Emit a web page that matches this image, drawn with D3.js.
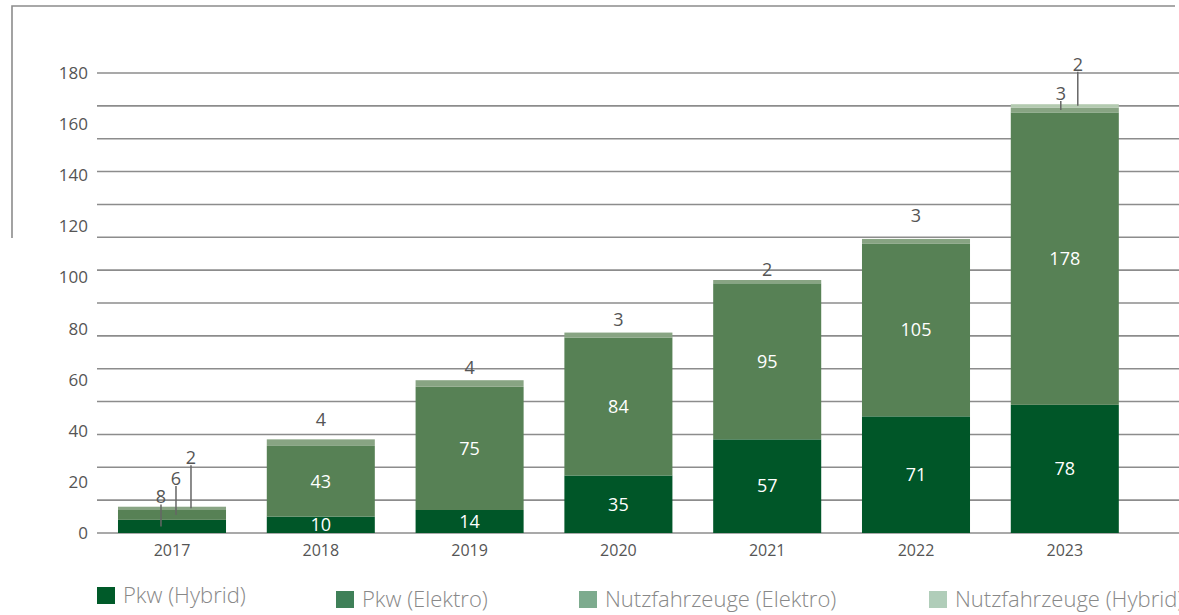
<!DOCTYPE html>
<html lang="de">
<head>
  <meta charset="UTF-8">
  <title>Fahrzeuge Hybrid / Elektro</title>
  <script src="https://d3js.org/d3.v7.min.js"></script>
  <style>
    body {
      margin: 0;
      background: #fff;
      font-family: "Open Sans", "Noto Sans", sans-serif;
    }

    .grid line {
      stroke: #8c8c8c;
      stroke-width: 1.6;
    }

    .tick-label {
      font-size: 17px;
      fill: #555;
    }

    .year-label {
      font-size: 16px;
      fill: #555;
    }

    .val-in {
      font-size: 18px;
      fill: #fff;
    }

    .val-out {
      font-size: 18px;
      fill: #555;
    }

    .legend text {
      font-size: 22px;
      font-weight: 300;
      fill: #888;
    }
  </style>
</head>
<body>
  <div id="body"></div>
  <script>
    // data
    const years = ["2017", "2018", "2019", "2020", "2021", "2022", "2023"];
    const pkwHybrid = [8, 10, 14, 35, 57, 71, 78];
    const pkwElektro = [6, 43, 75, 84, 95, 105, 178];
    const nfzElektro = [2, 4, 4, 3, 2, 3, 3];
    const nfzHybrid = [0, 0, 0, 0, 0, 0, 2];
    const yTickLabels = [0, 20, 40, 60, 80, 100, 120, 140, 160, 180];
    const seriesNames = ["Pkw (Hybrid)", "Pkw (Elektro)", "Nutzfahrzeuge (Elektro)", "Nutzfahrzeuge (Hybrid)"];

    const keys = ["pkwHybrid", "pkwElektro", "nfzElektro", "nfzHybrid"];
    const barColors = ["#005628", "#578155", "#88a483", "#b3cab0"];
    const legendColors = ["#005a29", "#3f8058", "#7dab8e", "#b0cdb9"];

    const table = years.map((yr, i) => ({
      year: yr,
      pkwHybrid: pkwHybrid[i],
      pkwElektro: pkwElektro[i],
      nfzElektro: nfzElektro[i],
      nfzHybrid: nfzHybrid[i]
    }));

    const width = 1179, height = 615;

    const svg = d3.select("#body")
                  .append("svg")
                  .attr("width", width)
                  .attr("height", height);

    // scales
    const x = d3.scaleBand()
                .domain(years)
                .range([97.6, 1139.2])
                .paddingInner(0.274)
                .paddingOuter(0.137);

    // bars use a 0-280 scale, the printed labels run 0-180 over the same height
    const y = d3.scaleLinear().domain([0, 280]).range([533, 73]);
    const yLab = d3.scaleLinear().domain([0, 180]).range([533, 73]);

    // frame top left
    svg.append("path")
       .attr("d", "M12,238 V6 H1175")
       .attr("fill", "none")
       .attr("stroke", "#8c8c8c")
       .attr("stroke-width", 1.6);

    // gridlines
    svg.append("g")
       .attr("class", "grid")
       .selectAll("line")
       .data(d3.range(0, 281, 20))
       .enter()
       .append("line")
       .attr("x1", 97)
       .attr("x2", width)
       .attr("y1", d => y(d))
       .attr("y2", d => y(d));

    // tick labels
    svg.append("g")
       .selectAll("text")
       .data(yTickLabels)
       .enter()
       .append("text")
       .attr("class", "tick-label")
       .attr("x", 88)
       .attr("y", d => yLab(d))
       .attr("dy", "0.35em")
       .attr("text-anchor", "end")
       .text(d => d);

    // stacked bars
    const stacked = d3.stack().keys(keys)(table);

    svg.selectAll(".layer")
       .data(stacked)
       .enter()
       .append("g")
       .attr("class", "layer")
       .attr("fill", (d, i) => barColors[i])
       .selectAll("rect")
       .data(d => d)
       .enter()
       .append("rect")
       .attr("x", d => x(d.data.year))
       .attr("y", d => y(d[1]))
       .attr("width", x.bandwidth())
       .attr("height", d => y(d[0]) - y(d[1]));

    // year labels
    svg.selectAll(".year-label")
       .data(years)
       .enter()
       .append("text")
       .attr("class", "year-label")
       .attr("x", d => x(d) + x.bandwidth() / 2)
       .attr("y", 556)
       .attr("text-anchor", "middle")
       .text(d => d);

    // callouts for segments too thin to hold a label
    const callouts = [
      { year: "2017", key: 0, dx: 43, len: 22 },
      { year: "2017", key: 1, dx: 58, len: 29 },
      { year: "2017", key: 2, dx: 73, len: 43 },
      { year: "2023", key: 2, dx: 50, len: 9 },
      { year: "2023", key: 3, dx: 67, len: 34 }
    ];
    const isCallout = (yr, k) => callouts.some(c => c.year === yr && c.key === k);

    // gap between bar top and the label above it, per year
    const topGap = { "2018": 20, "2019": 13, "2020": 13, "2021": 10, "2022": 23 };

    // labels inside / above bars
    stacked.forEach((layer, k) => {
      layer.forEach(d => {
        const yr = d.data.year;
        const v = d[1] - d[0];
        if (v === 0 || isCallout(yr, k)) return;
        const cx = x(yr) + x.bandwidth() / 2;
        if (k < 2) {
          svg.append("text")
             .attr("class", "val-in")
             .attr("x", cx)
             .attr("y", (y(d[0]) + y(d[1])) / 2)
             .attr("dy", "0.35em")
             .attr("text-anchor", "middle")
             .text(v);
        } else {
          svg.append("text")
             .attr("class", "val-out")
             .attr("x", cx)
             .attr("y", y(d[1]) - (topGap[yr] || 12))
             .attr("dy", "0.35em")
             .attr("text-anchor", "middle")
             .text(v);
        }
      });
    });

    callouts.forEach(c => {
      const i = years.indexOf(c.year);
      const seg = stacked[c.key][i];
      const lx = x(c.year) + c.dx;
      const y0 = (y(seg[0]) + y(seg[1])) / 2;
      svg.append("line")
         .attr("x1", lx).attr("x2", lx)
         .attr("y1", y0).attr("y2", y0 - c.len)
         .attr("stroke", "#666")
         .attr("stroke-width", 1.5);
      svg.append("text")
         .attr("class", "val-out")
         .attr("x", lx)
         .attr("y", y0 - c.len - 1)
         .attr("text-anchor", "middle")
         .text(seg[1] - seg[0]);
    });

    // legend
    const legendX = [97, 336, 579, 929];
    const legendY = [587, 591, 591, 591];
    const legend = svg.append("g").attr("class", "legend");
    seriesNames.forEach((name, i) => {
      legend.append("rect")
            .attr("x", legendX[i])
            .attr("y", legendY[i])
            .attr("width", 18)
            .attr("height", 17)
            .attr("fill", legendColors[i]);
      legend.append("text")
            .attr("x", legendX[i] + 26)
            .attr("y", legendY[i] + 16)
            .text(name);
    });
  </script>
</body>
</html>
